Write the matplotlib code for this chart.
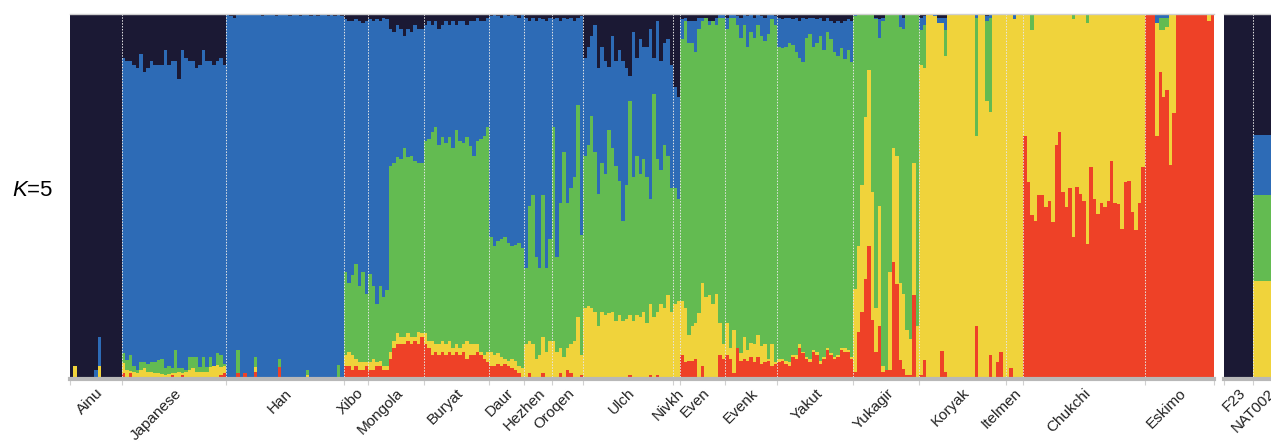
import numpy as np
import matplotlib.pyplot as plt

plt.rcParams['font.family'] = ['Liberation Sans', 'DejaVu Sans']
plt.rcParams['mathtext.fontset'] = 'custom'
plt.rcParams['mathtext.rm'] = 'Liberation Sans'
plt.rcParams['mathtext.it'] = 'Liberation Sans:italic'

# populations, left to right, and number of individuals in each
groups = ['Ainu', 'Japanese', 'Han', 'Xibo', 'Mongola', 'Buryat', 'Daur', 'Hezhen',
          'Oroqen', 'Ulch', 'Nivkh', 'Even', 'Evenk', 'Yakut', 'Yukagir', 'Koryak',
          'Itelmen', 'Chukchi', 'Eskimo']
sizes = [15, 30, 34, 7, 16, 19, 10, 8, 9, 26, 2, 13, 15, 22, 19, 25, 5, 35, 20]

# cumulative ancestry per individual (K=5), stacked bottom->top:
# red, yellow, green, blue, and the dark component fills up to 1
cum_red = [
    0, 0, 0, 0, 0, 0, 0, 0, 0, 0, 0, 0, 0, 0, 0,  # Ainu
    .01, 0, .01, 0, 0, 0, 0, 0, 0, 0, 0, 0, 0, 0, .005, 0, 0, .005, 0, 0, 0, 0, 0, 0, 0, 0, 0, 0, .005, .01,  # Japanese
    0, 0, 0, .01, 0, .012, 0, 0, .015, 0, 0, 0, 0, 0, 0, .028, 0, 0, 0, 0, 0, 0, 0, 0, 0, 0, 0, 0, 0, 0, 0, 0, 0, 0,  # Han
    .03, .03, .02, .03, .02, .02, .03,  # Xibo
    .02, .02, .03, .03, .02, .02, .05, .08, .09, .09, .09, .10, .09, .10, .09, .11,  # Mongola
    .09, .08, .06, .07, .06, .07, .06, .07, .06, .07, .06, .07, .05, .06, .06, .07, .06, .05, .04,  # Buryat
    .03, .03, .035, .03, .035, .03, .025, .02, .01, 0,  # Daur
    0, .01, 0, 0, 0, .01, 0, 0,  # Hezhen
    0, 0, .01, 0, .02, .01, 0, 0, .005,  # Oroqen
    0, 0, 0, 0, 0, 0, 0, 0, 0, 0, 0, 0, 0, .005, 0, 0, 0, 0, 0, .005, 0, .005, 0, 0, 0, 0,  # Ulch
    0, 0,  # Nivkh
    .06, .04, .045, .045, .05, 0, .03, 0, 0, 0, 0, .06, .05,  # Even
    .06, .05, .01, .08, .045, .05, .045, .055, .04, .055, .035, .04, .045, .03, .035,  # Evenk
    .04, .045, .035, .03, .055, .05, .08, .065, .05, .04, .07, .06, .035, .05, .075, .06, .05, .055, .075, .07, .07, .05,  # Yakut
    .014, .124, .18, .27, .36, .156, .07, .14, .014, .018, .018, .317, .257, .046, .023, .005, .005, .225, 0,  # Yukagir
    .005, .046, 0, 0, 0, 0, .073, .014, 0, 0, 0, 0, 0, 0, 0, 0, .14, 0, 0, 0, .06, 0, .04, .07, 0,  # Koryak
    0, .025, 0, 0, 0,  # Itelmen
    .665, .537, .445, .43, .50, .50, .468, .486, .427, .638, .674, .51, .468, .52, .385, .523, .505, .486,
    .367, .578, .49, .45, .48, .468, .486, .596, .48, .477, .408, .537, .54, .454, .404, .48, .578,  # Chukchi
    1, 1, 1, .665, .84, .77, .79, .584, .726, 1, 1, 1, 1, 1, 1, 1, 1, 1, .98, 1,  # Eskimo
]
cum_yellow = [
    0, .03, 0, 0, 0, 0, 0, 0, .03, 0, 0, 0, 0, 0, 0,  # Ainu
    .038, .02, .017, .015, .01, .02, .024, .015, .015, .01, .01, .008, .006, .008, .01, .01, .015, .01, .015, .02,
    .024, .015, .015, .015, .015, .028, .033, .033, .028, .03,  # Japanese
    0, 0, 0, .01, 0, .012, 0, 0, .028, 0, 0, 0, 0, 0, 0, .028, 0, 0, 0, 0, 0, 0, 0, .005, 0, 0, 0, 0, 0, 0, 0, 0, 0, 0,  # Han
    .06, .07, .06, .05, .04, .04, .04,  # Xibo
    .04, .05, .04, .045, .03, .03, .07, .10, .12, .11, .11, .12, .11, .11, .125, .12,  # Mongola
    .12, .10, .10, .09, .09, .10, .09, .10, .08, .09, .08, .09, .10, .09, .09, .09, .07, .06, .07,  # Buryat
    .07, .06, .065, .055, .05, .045, .05, .045, .03, .025,  # Daur
    .09, .10, .09, .05, .06, .11, .07, .10,  # Hezhen
    .10, .07, .08, .055, .08, .09, .10, .165, .06,  # Oroqen
    .19, .195, .19, .18, .14, .18, .17, .175, .18, .155, .17, .155, .16, .17, .155, .17, .165, .18, .15, .20,
    .165, .18, .20, .19, .225, .18,  # Ulch
    .20, .21,  # Nivkh
    .21, .19, .115, .14, .15, .175, .26, .22, .225, .20, .23, .15, .09,  # Even
    .15, .08, .13, .08, .065, .11, .075, .095, .09, .115, .085, .09, .05, .09, .04,  # Evenk
    .05, .05, .045, .04, .06, .06, .09, .07, .055, .05, .075, .07, .045, .055, .08, .065, .055, .06, .08, .08, .075, .055,  # Yakut
    .243, .36, .53, .715, .845, .51, .19, .47, .03, .02, .29, .63, .61, .26, .23, .13, .105, .59, .14,  # Yukagir
    .86, .85, 1, 1, 1, 1, 1, .885, 1, 1, 1, 1, 1, 1, 1, 1, .665, 1, 1, .76, .73, 1, 1, 1, 1,  # Koryak
    1, 1, .985, 1, 1,  # Itelmen
    1, 1, .955, 1, 1, 1, 1, 1, 1, 1, 1, 1, 1, 1, .985, 1, 1, 1, .975, 1, 1, 1, 1, 1, 1, 1, 1, 1, 1, 1, 1, 1, 1, 1, 1,  # Chukchi
    1, 1, 1, .975, .955, .955, .965, 1, 1, 1, 1, 1, 1, 1, 1, 1, 1, 1, 1, 1,  # Eskimo
]
cum_green = [
    0, .03, 0, 0, 0, 0, 0, 0, .03, 0, 0, 0, 0, 0, 0,  # Ainu
    .065, .047, .06, .03, .02, .042, .04, .036, .042, .042, .047, .049, .024, .03, .024, .074, .024, .024, .02, .054,
    .054, .054, .028, .054, .028, .054, .03, .067, .06, .035,  # Japanese
    0, 0, 0, .074, 0, .012, 0, 0, .054, 0, 0, 0, 0, 0, 0, .049, 0, 0, 0, 0, 0, 0, 0, .02, 0, 0, 0, 0, 0, 0, 0, 0, .033, 0,  # Han
    .29, .26, .28, .31, .25, .29, .23,  # Xibo
    .285, .25, .20, .25, .22, .24, .58, .59, .605, .60, .63, .605, .61, .595, .59, .59,  # Mongola
    .65, .655, .675, .69, .64, .66, .645, .66, .63, .68, .65, .645, .66, .635, .61, .65, .655, .665, .69,  # Buryat
    .385, .36, .375, .38, .385, .37, .36, .365, .37, .355,  # Daur
    .30, .47, .50, .33, .30, .50, .30, .38,  # Hezhen
    .69, .33, .48, .62, .48, .52, .55, .75, .39,  # Oroqen
    .61, .64, .72, .62, .505, .59, .56, .68, .63, .58, .54, .43, .53, .76, .55, .61, .56, .60, .55, .49,
    .78, .60, .57, .64, .61, .52,  # Ulch
    .52, .49,  # Nivkh
    .93, .98, .92, .92, .895, .96, .98, .99, .97, .98, .97, .99, .99,  # Even
    .96, .99, .99, .97, .935, .97, .91, .95, .935, .97, .94, .925, .945, .985, .97,  # Evenk
    .91, .905, .91, .92, .915, .895, .88, .867, .935, .945, .91, .92, .94, .90, .95, .93, .895, .885, .905, .876, .90, .867,  # Yakut
    .995, 1, 1, 1, 1, 1, .985, .935, .98, 1, 1, 1, 1, .965, .96, 1, 1, 1, 1,  # Yukagir
    .955, .97, 1, 1, .995, .975, .975, .955, 1, 1, 1, 1, 1, 1, 1, 1, .99, 1, 1, .98, .99, 1, 1, 1, 1,  # Koryak
    1, 1, .985, 1, 1,  # Itelmen
    1, 1, 1, 1, 1, 1, 1, 1, 1, 1, 1, 1, 1, 1, 1, 1, 1, 1, 1, 1, 1, 1, 1, 1, 1, 1, 1, 1, 1, 1, 1, 1, 1, 1, 1,  # Chukchi
    1, 1, 1, .975, .99, .99, .99, 1, 1, 1, 1, 1, 1, 1, 1, 1, 1, 1, 1, 1,  # Eskimo
]
cum_blue = [
    0, .03, 0, 0, 0, 0, 0, .02, .11, 0, 0, 0, 0, 0, 0,  # Ainu
    .88, .87, .87, .86, .85, .89, .84, .85, .87, .86, .86, .86, .90, .86, .87, .87, .82, .90, .88, .87,
    .87, .85, .86, .90, .87, .87, .86, .87, .88, .86,  # Japanese
    1, .995, .99, 1, 1, 1, 1, 1, 1, 1, .995, 1, 1, 1, .995, 1, 1, 1, .995, 1, 1, .995, 1, 1, .995, 1, .995, 1, 1, .995, 1, .995, 1, .995,  # Han
    .985, .98, .98, .985, .98, .975, .98,  # Xibo
    .985, .98, .985, .98, .99, .985, .96, .95, .97, .96, .94, .96, .95, .97, .96, .96,  # Mongola
    .97, .98, .97, .98, .96, .97, .98, .97, .98, .97, .98, .98, .97, .98, .98, .99, .98, .98, .99,  # Buryat
    .995, 1, .995, .99, 1, .995, 1, .995, .99, 1,  # Daur
    .99, .98, .99, .98, .99, .985, .98, .99,  # Hezhen
    .985, .99, .98, .99, .985, .99, .98, .99, .995,  # Oroqen
    .88, .91, .94, .97, .85, .91, .87, .855, .94, .87, .90, .87, .85, .83, .95, .88, .93, .91, .91, .96,
    .88, .98, .87, .92, .93, .86,  # Ulch
    .80, .77,  # Nivkh
    .985, .99, .98, .98, .98, .99, .99, .99, .98, .98, .99, 1, 1,  # Even
    .99, 1, 1, .995, .99, 1, .995, 1, .99, 1, .995, .99, 1, 1, .995,  # Evenk
    .99, .985, .99, .99, .985, .99, .98, .99, .985, .99, .99, .985, .99, .98, .99, .98, .975, .98, .975, .98, .985, .98,  # Yakut
    1, 1, 1, 1, 1, 1, .99, .985, .99, 1, 1, 1, 1, 1, .99, 1, 1, 1, 1,  # Yukagir
    .99, .995, 1, 1, 1, .99, .99, .99, 1, 1, 1, 1, 1, 1, 1, 1, 1, 1, 1, .995, 1, 1, 1, 1, 1,  # Koryak
    1, 1, 1, 1, 1,  # Itelmen
    1, 1, 1, 1, 1, 1, 1, 1, 1, 1, 1, 1, 1, 1, 1, 1, 1, 1, 1, 1, 1, 1, 1, 1, 1, 1, 1, 1, 1, 1, 1, 1, 1, 1, 1,  # Chukchi
    1, 1, 1, 1, 1, 1, 1, 1, 1, 1, 1, 1, 1, 1, 1, 1, 1, 1, 1, 1,  # Eskimo
]

# ancient samples in the right-hand panel
anc_names = ['F23', 'NAT002']
anc_red = [0, 0]
anc_yellow = [0, .264]
anc_green = [0, .501]
anc_blue = [0, .666]

colors = ['#ee4127', '#f0d33b', '#63bb51', '#2d6bb6', '#1b1934']
n = sum(sizes)
for arr in (cum_red, cum_yellow, cum_green, cum_blue):
    assert len(arr) == n, len(arr)


def draw_panel(ax, levels, nbar):
    x = np.arange(nbar)
    lo = np.zeros(nbar)
    for hi, c in zip(levels + [np.ones(nbar)], colors):
        hi = np.asarray(hi, dtype=float)
        ax.bar(x, hi - lo, bottom=lo, width=1.0, color=c, linewidth=0,
               antialiased=False)
        lo = hi
    ax.set_xlim(-0.5, nbar - 0.5)
    ax.set_ylim(0, 1)
    ax.set_yticks([])
    for s in ['left', 'right']:
        ax.spines[s].set_visible(False)
    ax.spines['top'].set_color('#cfcfcf')
    ax.spines['top'].set_linewidth(1.0)
    ax.spines['bottom'].set_color('#b8b8b8')
    ax.spines['bottom'].set_linewidth(3.0)
    ax.spines['bottom'].set_position(('outward', 1.5))


def label_groups(ax, names, counts):
    ends = np.cumsum(counts)
    starts = ends - np.asarray(counts)
    centers = (starts + ends) / 2 - 0.5
    bounds = np.concatenate([[0], ends]) - 0.5
    ax.vlines(bounds[1:-1], 0, 1, colors='#e6e6e6', linewidth=0.7,
              linestyles=(0, (1.5, 1.5)))
    ax.set_xticks(centers)
    ax.set_xticklabels(names, rotation=45, ha='right', rotation_mode='anchor',
                       fontsize=11, color='#222222')
    ax.tick_params(axis='x', which='major', length=0, pad=5)
    ax.set_xticks(bounds, minor=True)
    ax.tick_params(axis='x', which='minor', length=4, width=0.8, color='#d0d0d0')


fig = plt.figure(figsize=(12.71, 4.44), dpi=100)

ax = fig.add_axes([70 / 1271, 67 / 444, 1144 / 1271, 363 / 444])
draw_panel(ax, [cum_red, cum_yellow, cum_green, cum_blue], n)
label_groups(ax, groups, sizes)

ax2 = fig.add_axes([1224 / 1271, 67 / 444, 58 / 1271, 363 / 444])
draw_panel(ax2, [anc_red, anc_yellow, anc_green, anc_blue], len(anc_names))
label_groups(ax2, anc_names, [1, 1])

fig.text(12 / 1271, 1 - 190 / 444, r'$K$=5', fontsize=16, va='center', ha='left')

fig.savefig('out.png', dpi=100)
